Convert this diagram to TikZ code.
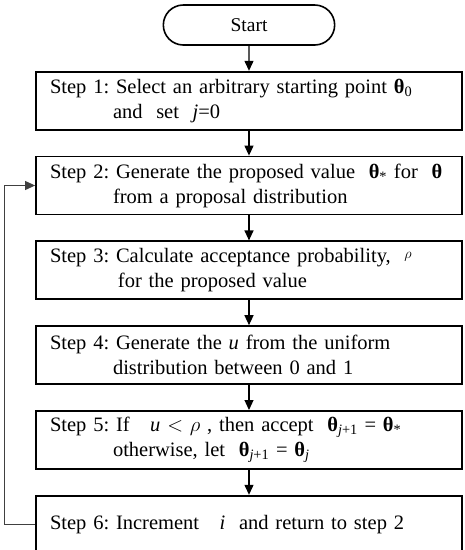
\documentclass[tikz,border=0pt]{standalone}
\usepackage{amsmath}
\usepackage{fontspec}
\setmainfont{Liberation Serif}
\usepackage{tikz}
\usetikzlibrary{positioning, arrows.meta, shapes.misc}

\newcommand{\bth}{\textbf{θ}}
\frenchspacing

\begin{document}
\begin{tikzpicture}[
  x=1pt, y=1pt,
  node distance=25pt,
  font=\fontsize{20.5pt}{25pt}\selectfont,
  startbox/.style={rounded rectangle, draw, line width=1.6pt, minimum width=178pt, minimum height=40pt},
  stepbox/.style={draw, line width=1.8pt, align=left, text width=398pt, inner xsep=14pt, minimum height=58pt},
  arr/.style={-{Triangle[length=10pt, width=9pt]}, line width=1.2pt},
  back/.style={-{Triangle[length=10pt, width=9pt]}, line width=1pt, black!75},
]
  \useasboundingbox (0,0) rectangle (465,-550);
  \node[startbox, font=\fontsize{19.5pt}{25pt}\selectfont] (start) at (249,-25) {Start};
  \node[stepbox, below=of start] (s1)
    {Step 1: Select an arbitrary starting point \bth\textsubscript{0}\\
     \hspace*{63pt}and \ set \ \textit{j}=0};
  \node[stepbox, below=of s1] (s2)
    {Step 2: Generate the proposed value \ \bth\textsubscript{*} for \ \bth\\
     \hspace*{63pt}from a proposal distribution};
  \node[stepbox, below=of s2] (s3)
    {Step 3: Calculate acceptance probability, \ \raisebox{4pt}{\fontsize{15pt}{15pt}\selectfont$\rho$}\\
     \hspace*{68pt}for the proposed value};
  \node[stepbox, below=of s3] (s4)
    {Step 4: Generate the \textit{u} from the uniform\\
     \hspace*{63pt}distribution between 0 and 1};
  \node[stepbox, below=of s4] (s5)
    {Step 5: If \ \ \textit{u} $<$ $\rho$ , then accept \ \bth\textsubscript{\textit{j}+1} = \bth\textsubscript{*}\\
     \hspace*{63pt}otherwise, let \ \bth\textsubscript{\textit{j}+1} = \bth\textsubscript{\textit{j}}};
  \node[stepbox, below=of s5] (s6)
    {Step 6: Increment \ \ \textit{i} \ and return to step 2};

  \draw[arr] (start) -- (s1);
  \draw[arr] (s1) -- (s2);
  \draw[arr] (s2) -- (s3);
  \draw[arr] (s3) -- (s4);
  \draw[arr] (s4) -- (s5);
  \draw[arr] (s5) -- (s6);
  % loop back to step 2
  \draw[back] (s6.west) -- ++(-31,0) |- (s2.west);
\end{tikzpicture}
\end{document}
